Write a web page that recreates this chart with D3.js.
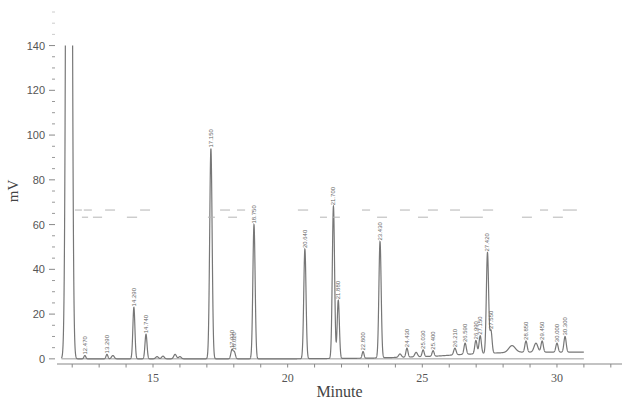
<!DOCTYPE html>
<html lang="en">
<head>
<meta charset="UTF-8" />
<title>Chromatogram</title>
<script src="https://d3js.org/d3.v7.min.js"></script>
<style>
    body { margin: 0; background: #fff; }
    svg { display: block; }
</style>
</head>
<body>
<svg id="chart" width="625" height="407"></svg>
<script>
// peaks: retention time (min), height above drift (mV), sigma (min)
const peakTimes   = [11.88, 12.47, 13.29, 13.51, 14.29, 14.74, 15.15, 15.37, 15.82, 16.00,
                     17.15, 17.93, 18.02, 18.75, 20.64, 21.70, 21.88, 22.80, 23.43, 24.17,
                     24.43, 24.77, 25.03, 25.40, 26.21, 26.59, 26.99, 27.15, 27.42, 27.55,
                     28.33, 28.85, 29.22, 29.45, 30.00, 30.30];
const peakHeights = [900, 1.5, 2, 1.5, 23, 11, 1.0, 1.2, 2.0, 1.0,
                     94, 4, 3, 60, 49, 68, 26, 3, 52, 1.5,
                     4, 2, 3, 2.5, 3, 5, 6, 8, 45, 10,
                     3, 5, 4, 5, 4, 7];
const peakWidths  = [0.07, 0.035, 0.035, 0.05, 0.038, 0.038, 0.05, 0.05, 0.05, 0.05,
                     0.045, 0.04, 0.04, 0.042, 0.042, 0.042, 0.04, 0.035, 0.042, 0.05,
                     0.038, 0.05, 0.038, 0.038, 0.045, 0.042, 0.042, 0.042, 0.042, 0.04,
                     0.12, 0.042, 0.07, 0.042, 0.042, 0.042];
const peakLabelled = [0, 1, 1, 0, 1, 1, 0, 0, 0, 0,
                      1, 1, 1, 1, 1, 1, 1, 1, 1, 0,
                      1, 0, 1, 1, 1, 1, 1, 1, 1, 1,
                      0, 1, 0, 1, 1, 1];

// baseline drift of the detector signal
const driftTimes  = [11.6, 20.0, 23.0, 24.5, 25.5, 26.5, 27.5, 28.5, 31.0];
const driftValues = [0, 0, 0.3, 0.8, 1.2, 2.0, 2.5, 3.0, 3.0];

// run window
const runStart = 11.6, runEnd = 31.0;

// integration event marks (start, end) at two levels
const eventsUpper = [[12.10, 12.36], [12.43, 12.73], [13.22, 13.59], [14.52, 14.89], [17.49, 17.86],
                     [18.12, 18.42], [20.38, 20.76], [22.76, 23.06], [24.17, 24.54], [25.21, 25.58],
                     [26.03, 26.40], [27.25, 27.63], [29.37, 29.67], [30.22, 30.74]];
const eventsLower = [[12.36, 12.59], [12.77, 13.11], [14.03, 14.41], [17.04, 17.30], [17.79, 18.12],
                     [21.20, 21.46], [21.68, 21.94], [23.32, 23.69], [24.84, 25.21], [26.40, 27.25],
                     [28.70, 29.07], [29.85, 30.22]];
const eventLevels = [66.5, 63.3];

const xMajorTicks = [15, 20, 25, 30];
const xMinorTicks = d3.range(12, 33, 1);
const yMajorTicks = [0, 20, 40, 60, 80, 100, 120, 140];
const yMinorTicks = d3.range(5, 160, 5);

const svg = d3.select("#chart");

const x = d3.scaleLinear().domain([11.435, 32.415]).range([57, 622]);
const y = d3.scaleLinear().domain([-2.3, 155]).range([364, 12]);
const drift = d3.scaleLinear().domain(driftTimes).range(driftValues).clamp(true);

function signal(t) {
    let v = drift(t);
    peakTimes.forEach((p, i) => {
        const d = (t - p) / peakWidths[i];
        if (Math.abs(d) < 8) v += peakHeights[i] * Math.exp(-0.5 * d * d);
    });
    return v;
}

const samples = d3.range(runStart, runEnd, 0.003).map(t => [t, signal(t)]);

svg.append("defs").append("clipPath").attr("id", "plot-clip")
    .append("rect")
    .attr("x", x.range()[0]).attr("y", y(140))
    .attr("width", x.range()[1] - x.range()[0])
    .attr("height", y(-2.3) - y(140));

// integration baseline
svg.append("line")
    .attr("x1", x(runStart)).attr("x2", x(runEnd))
    .attr("y1", y(0)).attr("y2", y(0))
    .attr("stroke", "#9a9a9a").attr("stroke-width", 1);

// trace
svg.append("path")
    .datum(samples)
    .attr("clip-path", "url(#plot-clip)")
    .attr("fill", "none")
    .attr("stroke", "#777")
    .attr("stroke-width", 1.2)
    .attr("d", d3.line().x(d => x(d[0])).y(d => y(Math.min(d[1], 160))));

// event marks
[eventsUpper, eventsLower].forEach((list, k) => {
    svg.append("g").selectAll("line")
        .data(list)
        .join("line")
        .attr("x1", d => x(d[0])).attr("x2", d => x(d[1]))
        .attr("y1", y(eventLevels[k])).attr("y2", y(eventLevels[k]))
        .attr("stroke", "#b5b5b5").attr("stroke-width", 1);
});

// peak labels
const labelled = peakTimes.filter((p, i) => peakLabelled[i]);
svg.append("g").selectAll("text")
    .data(labelled)
    .join("text")
    .attr("transform", d => `translate(${x(d) + 2},${y(signal(d)) - 1}) rotate(-90)`)
    .attr("font-family", "Liberation Sans, sans-serif")
    .attr("font-size", 6)
    .attr("fill", "#666")
    .text(d => d.toFixed(3));

// x axis
const xAxis = svg.append("g").attr("transform", `translate(0,${y(-2.3)})`);
xAxis.append("line")
    .attr("x1", x.range()[0]).attr("x2", x.range()[1])
    .attr("stroke", "#888").attr("stroke-width", 1.2);
xAxis.selectAll(".tick")
    .data(xMinorTicks)
    .join("line")
    .attr("x1", d => x(d)).attr("x2", d => x(d))
    .attr("y1", 0).attr("y2", 3.5)
    .attr("stroke", "#888");
xAxis.selectAll("text")
    .data(xMajorTicks)
    .join("text")
    .attr("x", d => x(d)).attr("y", 18)
    .attr("text-anchor", "middle")
    .attr("font-family", "Liberation Serif, serif")
    .attr("font-size", 12)
    .attr("fill", "#555")
    .text(d => d);

// y axis (ticks only)
const yAxis = svg.append("g");
yAxis.selectAll(".minor")
    .data(yMinorTicks.filter(v => v % 20 !== 0))
    .join("line")
    .attr("x1", 52).attr("x2", 55)
    .attr("y1", d => y(d)).attr("y2", d => y(d))
    .attr("stroke", d => d > 140 ? "#ccc" : "#999");
yAxis.selectAll(".major")
    .data(yMajorTicks)
    .join("line")
    .attr("x1", 49).attr("x2", 55)
    .attr("y1", d => y(d)).attr("y2", d => y(d))
    .attr("stroke", "#888");
yAxis.selectAll("text")
    .data(yMajorTicks)
    .join("text")
    .attr("x", 45).attr("y", d => y(d) + 4)
    .attr("text-anchor", "end")
    .attr("font-family", "Liberation Sans, sans-serif")
    .attr("font-size", 11)
    .attr("fill", "#555")
    .text(d => d);

// titles
svg.append("text")
    .attr("x", (x.range()[0] + x.range()[1]) / 2).attr("y", 397)
    .attr("text-anchor", "middle")
    .attr("font-family", "Liberation Serif, serif")
    .attr("font-size", 16)
    .attr("fill", "#444")
    .text("Minute");

svg.append("text")
    .attr("transform", `translate(18,${y(75)}) rotate(-90)`)
    .attr("text-anchor", "middle")
    .attr("font-family", "Liberation Serif, serif")
    .attr("font-size", 15)
    .attr("fill", "#444")
    .text("mV");
</script>
</body>
</html>
